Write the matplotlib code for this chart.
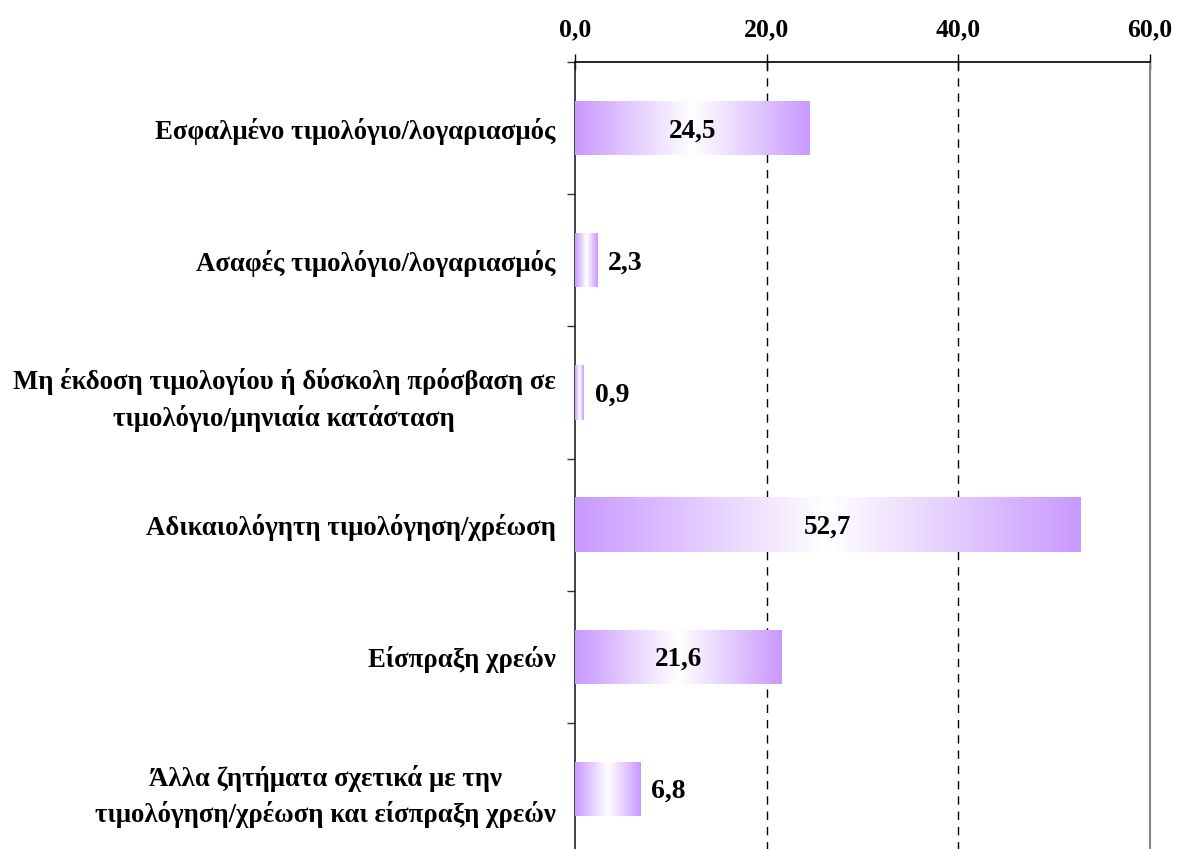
import matplotlib
matplotlib.use("Agg")
import matplotlib.pyplot as plt
import numpy as np
from matplotlib.colors import LinearSegmentedColormap
from matplotlib.ticker import FixedLocator, FuncFormatter

categories = [
    "Εσφαλμένο τιμολόγιο/λογαριασμός",
    "Ασαφές τιμολόγιο/λογαριασμός",
    "Μη έκδοση τιμολογίου ή δύσκολη πρόσβαση σε\nτιμολόγιο/μηνιαία κατάσταση",
    "Αδικαιολόγητη τιμολόγηση/χρέωση",
    "Είσπραξη χρεών",
    "Άλλα ζητήματα σχετικά με την\nτιμολόγηση/χρέωση και είσπραξη χρεών",
]
values = [24.5, 2.3, 0.9, 52.7, 21.6, 6.8]
x_ticks = [0, 20, 40, 60]

FONT = "Liberation Serif"
purple = "#c999ff"
cmap = LinearSegmentedColormap.from_list("grad", [purple, "#ffffff", purple])

W, H, DPI = 1184, 849, 100
fig = plt.figure(figsize=(W / DPI, H / DPI), dpi=DPI)
left_px, right_px, top_px, bottom_px = 575, 1150, 62, 855
ax = fig.add_axes([left_px / W, (H - bottom_px) / H,
                   (right_px - left_px) / W, (bottom_px - top_px) / H])

n = len(categories)
ypos = np.arange(n)
bars = ax.barh(ypos, values, height=0.41, color="none", edgecolor="none", zorder=3)

ax.set_xlim(0, 60)
ax.set_ylim(n - 0.5, -0.5)

grad = np.linspace(0, 1, 256).reshape(1, -1)
for b in bars:
    x0, y0 = b.get_x(), b.get_y()
    w, h = b.get_width(), b.get_height()
    im = ax.imshow(grad, cmap=cmap, aspect="auto", extent=(x0, x0 + w, y0 + h, y0),
                   zorder=3, interpolation="bilinear")
    im.set_clip_path(b)

ax.set_xlim(0, 60)
ax.set_ylim(n - 0.5, -0.5)

# value labels
for i, v in enumerate(values):
    lab = f"{v:.1f}".replace(".", ",")
    if v > 10:
        ax.text(v / 2, i + 0.02, lab, ha="center", va="center", fontsize=19.5,
                fontweight="bold", family=FONT, zorder=5)
    else:
        ax.annotate(lab, xy=(v, i + 0.02), xytext=(8, 0), textcoords="offset points",
                    ha="left", va="center", fontsize=20, fontweight="bold",
                    family=FONT, zorder=5)

# x axis on top
ax.xaxis.set_ticks_position("top")
ax.xaxis.set_label_position("top")
ax.xaxis.set_major_locator(FixedLocator(x_ticks))
ax.xaxis.set_major_formatter(FuncFormatter(lambda x, p: f"{x:.1f}".replace(".", ",")))
ax.tick_params(axis="x", direction="inout", length=12, width=1, pad=9,
               labelsize=18.5, colors="black")
for t in ax.get_xticklabels():
    t.set_family(FONT)
    t.set_fontweight("bold")

# y axis
ax.set_yticks(ypos)
ax.set_yticklabels(categories, fontsize=19.3, fontweight="bold", family=FONT,
                   multialignment="center", linespacing=1.45)
ax.set_yticks(np.arange(-0.5, n, 1.0), minor=True)
ax.tick_params(axis="y", which="major", length=0, pad=14)
ax.tick_params(axis="y", which="minor", length=6, width=1, direction="out", color="#333333")

# grid lines
for xv in x_ticks[1:-1]:
    ax.axvline(xv, color="black", linestyle=(0, (6, 5)), linewidth=1, zorder=1)

ax.spines["top"].set_color("black")
ax.spines["top"].set_linewidth(1.2)
ax.spines["left"].set_color("#222222")
ax.spines["left"].set_linewidth(1.2)
ax.spines["right"].set_color("#888888")
ax.spines["right"].set_linewidth(1.5)
ax.spines["bottom"].set_visible(False)

fig.savefig("out.png", dpi=DPI)
